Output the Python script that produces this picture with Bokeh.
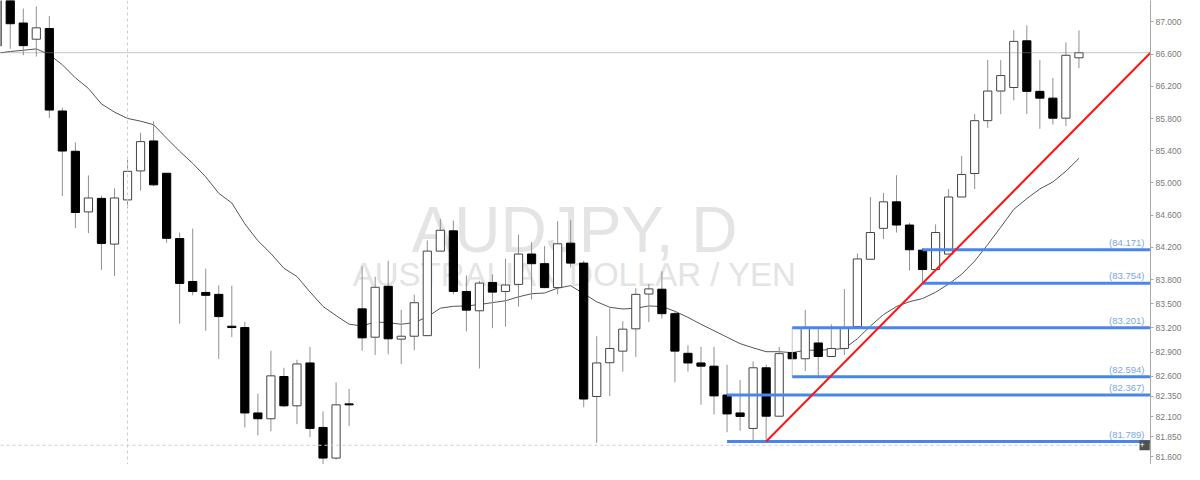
from bokeh.plotting import figure
from bokeh.models import ColumnDataSource, FixedTicker, PrintfTickFormatter, Span, Label, Range1d
from bokeh.core.properties import value
from bokeh.embed import file_html
from bokeh.resources import INLINE

# ---------------- data ----------------
opens = [86.702, 87.303, 86.987, 86.786, 86.918, 85.894, 85.394, 84.641, 84.809, 84.241,
         84.790, 85.150, 85.522, 85.121, 84.310, 83.777, 83.641, 83.617, 83.221, 83.205,
         82.144, 82.072, 82.597, 82.233, 82.765, 81.964, 81.584, 82.252, 83.437, 83.085,
         83.717, 83.061, 83.097, 83.104, 84.154, 84.406, 83.653, 83.413, 83.765, 83.653,
         83.741, 84.118, 83.998, 83.701, 84.253, 84.005, 82.348, 82.768, 82.912, 83.189,
         83.621, 83.681, 83.377, 82.885, 82.765, 82.725, 82.367, 82.144, 81.952, 82.705,
         82.104, 82.893, 82.817, 83.013, 82.845, 82.945, 83.217, 84.053, 84.437, 84.766,
         84.478, 84.166, 83.925, 84.117, 84.826, 85.118, 85.774, 86.142, 86.186, 86.766,
         86.138, 86.054, 85.805, 86.555]
highs = [87.387, 87.387, 87.167, 87.194, 87.074, 85.934, 85.505, 85.094, 84.842, 84.934,
         85.289, 85.625, 85.766, 85.121, 84.385, 84.433, 83.937, 83.729, 83.725, 83.277,
         82.384, 82.917, 82.705, 82.804, 82.965, 82.164, 82.525, 82.444, 83.965, 83.837,
         84.034, 83.425, 83.613, 84.286, 84.553, 84.533, 83.853, 83.785, 83.865, 84.058,
         84.358, 84.265, 84.217, 84.526, 84.538, 84.034, 83.097, 83.445, 83.284, 83.693,
         83.745, 83.905, 83.405, 82.984, 82.965, 82.965, 82.744, 82.552, 82.785, 82.744,
         82.965, 82.905, 83.425, 83.205, 83.245, 83.685, 84.125, 84.826, 84.877, 85.097,
         84.505, 84.193, 84.485, 84.925, 85.337, 85.858, 86.526, 86.526, 86.898, 86.958,
         86.526, 86.306, 86.747, 86.894]
lows = [86.666, 86.666, 86.586, 86.570, 85.806, 84.838, 84.442, 84.377, 83.921, 83.845,
        84.685, 84.905, 84.962, 84.257, 83.253, 83.605, 83.164, 82.816, 83.085, 81.964,
        81.864, 81.916, 82.216, 82.005, 81.844, 81.480, 81.564, 81.984, 82.917, 82.864,
        82.873, 82.753, 82.924, 83.104, 84.154, 83.617, 83.157, 82.696, 83.197, 83.217,
        83.465, 83.553, 83.693, 83.617, 83.953, 82.216, 81.772, 82.353, 82.657, 82.840,
        83.272, 83.317, 82.525, 82.657, 82.245, 82.125, 81.904, 81.924, 81.792, 81.789,
        82.104, 82.810, 82.665, 82.594, 82.845, 82.864, 83.217, 84.053, 84.305, 84.385,
        83.913, 83.754, 83.925, 84.117, 84.826, 84.926, 85.685, 85.854, 86.026, 85.858,
        85.673, 85.726, 85.706, 86.426]
closes = [87.327, 86.978, 86.706, 86.927, 85.906, 85.397, 84.634, 84.814, 84.250, 84.814,
          85.145, 85.514, 84.977, 84.313, 83.753, 83.653, 83.605, 83.341, 83.205, 82.144,
          82.072, 82.605, 82.233, 82.753, 81.952, 81.584, 82.245, 82.245, 83.077, 83.705,
          83.065, 83.097, 83.513, 84.154, 84.413, 83.653, 83.421, 83.757, 83.645, 83.733,
          84.118, 83.998, 83.701, 84.245, 84.005, 82.317, 82.765, 82.945, 83.185, 83.617,
          83.685, 83.377, 82.912, 82.765, 82.725, 82.356, 82.132, 82.101, 82.705, 82.104,
          82.881, 82.817, 83.201, 82.845, 82.945, 83.205, 84.057, 84.385, 84.766, 84.478,
          84.171, 83.925, 84.385, 84.826, 85.106, 85.774, 86.142, 86.334, 86.759, 86.138,
          86.054, 85.805, 86.586, 86.618]
ma = [86.612, 86.633, 86.648, 86.666, 86.594, 86.468, 86.306, 86.174, 85.982, 85.880,
      85.802, 85.768, 85.724, 85.556, 85.394, 85.244, 85.076, 84.872, 84.752, 84.493,
      84.283, 84.124, 83.941, 83.839, 83.647, 83.467, 83.353, 83.247, 83.224, 83.275,
      83.265, 83.246, 83.266, 83.337, 83.445, 83.469, 83.473, 83.491, 83.514, 83.538,
      83.586, 83.625, 83.634, 83.694, 83.725, 83.625, 83.525, 83.457, 83.435, 83.445,
      83.473, 83.466, 83.407, 83.331, 83.245, 83.166, 83.085, 83.005, 82.953, 82.905,
      82.905, 82.893, 82.923, 82.924, 82.932, 82.945, 83.065, 83.224, 83.365, 83.466,
      83.526, 83.565, 83.643, 83.745, 83.866, 84.031, 84.235, 84.451, 84.673, 84.806,
      84.926, 85.013, 85.146, 85.306]

levels = [84.171, 83.754, 83.201, 82.594, 82.367, 81.789]
level_labels = ["(84.171)", "(83.754)", "(83.201)", "(82.594)", "(82.367)", "(81.789)"]
level_start = [71, 71, 61, 61, 56, 56]
trend_idx = [59, 71]
trend_price = [81.789, 83.754]
bid_price = 86.618
cross_price = 81.743
cross_bar = 10
ticks = [87.0, 86.6, 86.2, 85.8, 85.4, 85.0, 84.6, 84.2, 83.8, 83.5, 83.2,
         82.9, 82.6, 82.35, 82.1, 81.85, 81.6]

# ---------------- figure ----------------
X0, X1 = 0.253, 88.49
Y0, Y1 = 81.504, 87.2665
p = figure(width=1184, height=464, x_range=Range1d(X0, X1), y_range=Range1d(Y0, Y1),
           x_axis_location=None, y_axis_location="right",
           output_backend="svg", toolbar_location=None,
           min_border_left=0, min_border_top=0, min_border_bottom=0, min_border_right=32)
p.grid.visible = False
p.outline_line_color = None
p.background_fill_color = "white"
p.border_fill_color = "white"

ax = p.yaxis[0]
ax.ticker = FixedTicker(ticks=ticks)
ax.formatter = PrintfTickFormatter(format="%.3f")
ax.major_label_text_font = "Liberation Sans"
ax.major_label_text_font_size = "8.5px"
ax.major_label_text_color = "#7a7a7a"
ax.axis_line_color = "#a8a8a8"
ax.major_tick_line_color = "#a8a8a8"
ax.major_tick_in = 0
ax.major_tick_out = 3
ax.minor_tick_line_color = None
ax.major_label_standoff = 2

# watermark
p.add_layout(Label(x=44.3, y=84.421, text="AUDJPY, D", text_align="center",
                   text_baseline="alphabetic", text_font="Liberation Sans",
                   text_font_size="64px", text_color="#e4e4e4", level="underlay"))
p.add_layout(Label(x=44.3, y=83.869, text="AUSTRALIAN DOLLAR / YEN", text_align="center",
                   text_baseline="alphabetic", text_font="Liberation Sans",
                   text_font_size="33px", text_color="#e4e4e4", level="underlay"))

# crosshair & bid line
p.add_layout(Span(location=cross_price, dimension="width", line_color="#cccccc",
                  line_dash="3 3", line_width=1))
p.add_layout(Span(location=cross_bar, dimension="height", line_color="#cccccc",
                  line_dash="3 3", line_width=1))
p.add_layout(Span(location=bid_price, dimension="width", line_color="#888888",
                  line_dash="1 1", line_width=1))

# candles
n = len(opens)
xs = list(range(n))
bottoms, tops, fills, lines = [], [], [], []
for o, c in zip(opens, closes):
    lo_, hi_ = min(o, c), max(o, c)
    if hi_ - lo_ < 0.012:
        hi_ = lo_ + 0.012
    bottoms.append(lo_)
    tops.append(hi_)
    if c >= o:
        fills.append("white"); lines.append("#444444")
    else:
        fills.append("black"); lines.append("black")
src = ColumnDataSource(dict(x=xs, high=highs, low=lows, top=tops, bottom=bottoms,
                            fill=fills, line=lines))

# moving average
p.line(xs, ma, line_color="#555555", line_width=1)

p.segment(x0="x", y0="low", x1="x", y1="high", source=src, line_color="#909090", line_width=1)
p.vbar(x="x", width=0.63, top="top", bottom="bottom", source=src,
       fill_color="fill", line_color="line", line_width=1)

# horizontal levels
p.segment(x0=[level_start[2]], y0=[levels[3]], x1=[level_start[2]], y1=[levels[2]],
          line_color="#c4c4c4", line_width=1)
p.segment(x0=level_start, y0=levels, x1=[X1] * len(levels), y1=levels,
          line_color="#4a86e8", line_width=3)
p.text(x=[X1] * len(levels), y=levels, text=level_labels, x_offset=-6, y_offset=-2,
       text_align="right", text_baseline="bottom", text_font=value("Liberation Sans"),
       text_font_size="9.5px", text_color="#7aa7e6")

# trend line
slope = (trend_price[1] - trend_price[0]) / (trend_idx[1] - trend_idx[0])
p.segment(x0=[trend_idx[0]], y0=[trend_price[0]], x1=[X1],
          y1=[trend_price[0] + slope * (X1 - trend_idx[0])],
          line_color="#ff1414", line_width=2)

# crosshair marker box (inside the frame)
p.add_layout(Label(x=X1, y=cross_price, x_offset=-11, text=" + ",
                   text_align="left", text_baseline="middle", text_font="Liberation Sans",
                   text_font_size="9px", text_color="white",
                   background_fill_color="#505050", level="overlay"))

open("out.html", "w").write(file_html(p, INLINE))
